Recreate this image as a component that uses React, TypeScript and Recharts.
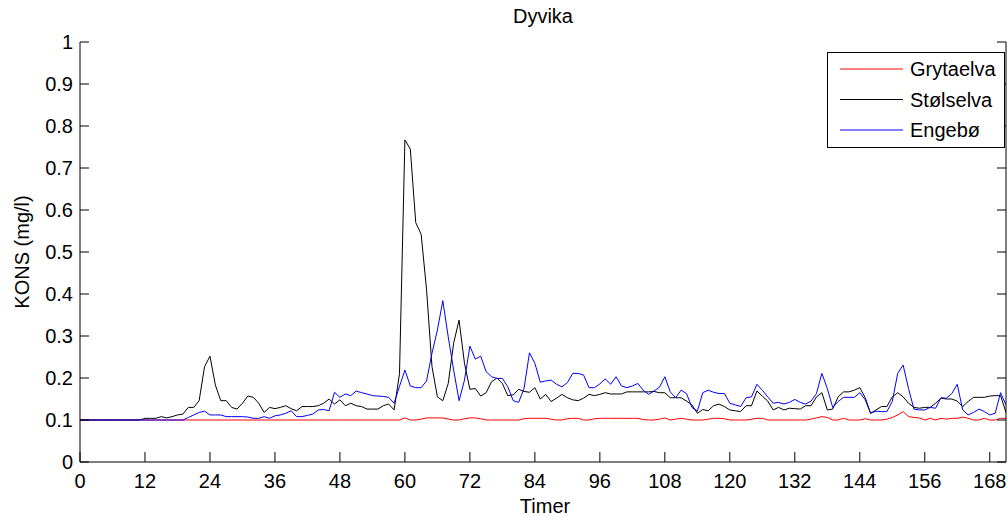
import React from 'react';
import { LineChart, Line, XAxis, YAxis } from 'recharts';

// Concentrations (mg/l) per hour
const grytaelva = [
  0.1, 0.1, 0.1, 0.1, 0.1, 0.1, 0.1, 0.1, 0.1, 0.1,
  0.1, 0.1, 0.1, 0.1, 0.1, 0.1, 0.1, 0.1, 0.1, 0.1,
  0.1, 0.1, 0.1, 0.1, 0.1, 0.1, 0.1, 0.1, 0.1, 0.1,
  0.1, 0.1, 0.1, 0.1, 0.1, 0.1, 0.1, 0.1, 0.1, 0.1,
  0.1, 0.1, 0.1, 0.1, 0.1, 0.1, 0.1, 0.1, 0.1, 0.1,
  0.1, 0.1, 0.1, 0.1, 0.1, 0.1, 0.1, 0.1, 0.1, 0.1,
  0.105, 0.1, 0.1, 0.102, 0.105, 0.105, 0.105, 0.105, 0.102, 0.1,
  0.1, 0.103, 0.105, 0.105, 0.103, 0.1, 0.1, 0.1, 0.1, 0.1,
  0.1, 0.1, 0.103, 0.104, 0.104, 0.104, 0.104, 0.102, 0.1, 0.1,
  0.103, 0.104, 0.104, 0.1, 0.1, 0.103, 0.104, 0.104, 0.104, 0.104,
  0.104, 0.104, 0.104, 0.104, 0.101, 0.1, 0.1, 0.102, 0.105, 0.1,
  0.102, 0.104, 0.102, 0.1, 0.1, 0.1, 0.102, 0.104, 0.104, 0.103,
  0.1, 0.1, 0.1, 0.1, 0.102, 0.104, 0.104, 0.1, 0.1, 0.1,
  0.1, 0.1, 0.1, 0.1, 0.1, 0.102, 0.105, 0.108, 0.106, 0.1,
  0.1, 0.104, 0.1, 0.1, 0.1, 0.103, 0.1, 0.1, 0.1, 0.102,
  0.106, 0.112, 0.12, 0.108, 0.106, 0.105, 0.1, 0.104, 0.1, 0.104,
  0.102, 0.104, 0.104, 0.107, 0.104, 0.1, 0.1, 0.104, 0.1, 0.1,
  0.104, 0.104,
];

const stolselva = [
  0.1, 0.1, 0.1, 0.1, 0.1, 0.1, 0.1, 0.1, 0.1, 0.1,
  0.1, 0.1, 0.104, 0.104, 0.104, 0.108, 0.105, 0.108, 0.112, 0.114,
  0.13, 0.13, 0.146, 0.227, 0.252, 0.183, 0.146, 0.146, 0.13, 0.126,
  0.14, 0.157, 0.154, 0.14, 0.118, 0.13, 0.127, 0.13, 0.134, 0.127,
  0.122, 0.132, 0.132, 0.132, 0.134, 0.14, 0.15, 0.138, 0.148, 0.134,
  0.14, 0.134, 0.132, 0.126, 0.126, 0.126, 0.134, 0.138, 0.124, 0.21,
  0.767, 0.745, 0.57, 0.542, 0.41, 0.227, 0.155, 0.146, 0.187, 0.283,
  0.338, 0.235, 0.173, 0.175, 0.157, 0.165, 0.191, 0.2, 0.187, 0.158,
  0.16, 0.173, 0.168, 0.166, 0.177, 0.15, 0.161, 0.144, 0.152, 0.161,
  0.153, 0.148, 0.146, 0.152, 0.161, 0.158, 0.161, 0.165, 0.162, 0.162,
  0.162, 0.167, 0.167, 0.167, 0.167, 0.167, 0.168, 0.165, 0.165, 0.153,
  0.153, 0.153, 0.145, 0.136, 0.116, 0.125, 0.122, 0.134, 0.138, 0.132,
  0.124, 0.122, 0.12, 0.134, 0.134, 0.169, 0.157, 0.145, 0.124, 0.13,
  0.124, 0.128, 0.127, 0.126, 0.134, 0.134, 0.155, 0.165, 0.124, 0.126,
  0.155, 0.167, 0.167, 0.171, 0.177, 0.153, 0.116, 0.124, 0.132, 0.132,
  0.155, 0.165, 0.155, 0.14, 0.13, 0.128, 0.13, 0.13, 0.14, 0.152,
  0.15, 0.15, 0.145, 0.132, 0.144, 0.154, 0.154, 0.154, 0.157, 0.158,
  0.158, 0.118,
];

const engebo = [
  0.1, 0.1, 0.1, 0.1, 0.1, 0.1, 0.1, 0.1, 0.1, 0.1,
  0.1, 0.1, 0.1, 0.1, 0.1, 0.1, 0.1, 0.1, 0.1, 0.1,
  0.106, 0.112, 0.118, 0.121, 0.112, 0.112, 0.112, 0.108, 0.108, 0.108,
  0.108, 0.107, 0.104, 0.104, 0.108, 0.104, 0.11, 0.112, 0.116, 0.122,
  0.108, 0.108, 0.111, 0.114, 0.124, 0.125, 0.122, 0.166, 0.154, 0.162,
  0.158, 0.169, 0.165, 0.162, 0.158, 0.157, 0.156, 0.154, 0.14, 0.18,
  0.219, 0.181, 0.177, 0.177, 0.193, 0.259, 0.314, 0.384, 0.298, 0.219,
  0.146, 0.195, 0.276, 0.245, 0.252, 0.215, 0.203, 0.199, 0.199, 0.179,
  0.146, 0.142, 0.175, 0.26, 0.235, 0.19, 0.193, 0.195, 0.185, 0.179,
  0.189, 0.211, 0.211, 0.207, 0.177, 0.177, 0.186, 0.198, 0.185, 0.203,
  0.181, 0.177, 0.181, 0.187, 0.171, 0.161, 0.169, 0.178, 0.203, 0.167,
  0.153, 0.171, 0.163, 0.13, 0.121, 0.165, 0.171, 0.166, 0.163, 0.163,
  0.14, 0.136, 0.132, 0.153, 0.155, 0.185, 0.171, 0.155, 0.14, 0.142,
  0.138, 0.142, 0.149, 0.142, 0.138, 0.145, 0.163, 0.211, 0.175, 0.13,
  0.144, 0.154, 0.154, 0.154, 0.165, 0.148, 0.116, 0.121, 0.12, 0.12,
  0.144, 0.211, 0.231, 0.175, 0.126, 0.124, 0.124, 0.13, 0.128, 0.153,
  0.152, 0.163, 0.185, 0.124, 0.112, 0.118, 0.126, 0.12, 0.112, 0.116,
  0.165, 0.136,
];

const xTicks = [0, 12, 24, 36, 48, 60, 72, 84, 96, 108, 120, 132, 144, 156, 168];
const yTicks = [0, 0.1, 0.2, 0.3, 0.4, 0.5, 0.6, 0.7, 0.8, 0.9, 1];
const yTickLabels = ['0', '0.1', '0.2', '0.3', '0.4', '0.5', '0.6', '0.7', '0.8', '0.9', '1'];

const seriesInfo = [
  { key: 'grytaelva', name: 'Grytaelva', color: '#ff0000' },
  { key: 'stolselva', name: 'Stølselva', color: '#000000' },
  { key: 'engebo', name: 'Engebø', color: '#0000ff' },
];

const data = grytaelva.map((g, i) => ({
  h: i,
  grytaelva: g,
  stolselva: stolselva[i],
  engebo: engebo[i],
}));

const W = 1007;
const H = 517;
const PL = 80;
const PR = 1006;
const PT = 42;
const PB = 462;
const FONT = '"Liberation Sans", Arial, Helvetica, sans-serif';
const FS = 20;

const BottomTick = (props: any) => {
  const { x, payload } = props;
  return (
    <g>
      <line x1={x} x2={x} y1={PB} y2={PB - 10} stroke="#000" strokeWidth={1} />
      <text x={x} y={488} textAnchor="middle" fontSize={FS} fontFamily={FONT} fill="#000">
        {payload.value}
      </text>
    </g>
  );
};

const TopTick = (props: any) => {
  const { x } = props;
  return <line x1={x} x2={x} y1={PT} y2={PT + 10} stroke="#000" strokeWidth={1} />;
};

const LeftTick = (props: any) => {
  const { y, payload } = props;
  const idx = yTicks.indexOf(payload.value);
  return (
    <g>
      <line x1={PL} x2={PL + 9} y1={y} y2={y} stroke="#000" strokeWidth={1} />
      <text x={73} y={y + 7} textAnchor="end" fontSize={FS} fontFamily={FONT} fill="#000">
        {idx >= 0 ? yTickLabels[idx] : String(payload.value)}
      </text>
    </g>
  );
};

const RightTick = (props: any) => {
  const { y } = props;
  return <line x1={PR} x2={PR - 9} y1={y} y2={y} stroke="#000" strokeWidth={1} />;
};

export default function App() {
  return (
    <div style={{ position: 'absolute', left: 0, top: 0, width: W, height: H, background: '#fff' }}>
      <LineChart
        width={W}
        height={H}
        data={data}
        margin={{ top: PT, right: W - PR - 1, bottom: 0, left: 0 }}
      >
        <XAxis
          dataKey="h"
          type="number"
          domain={[0, 171]}
          ticks={xTicks}
          interval={0}
          height={H - PB}
          tickLine={false}
          tickSize={0}
          axisLine={{ stroke: '#000' }}
          tick={<BottomTick />}
          allowDataOverflow
        />
        <XAxis
          xAxisId="top"
          orientation="top"
          dataKey="h"
          type="number"
          domain={[0, 171]}
          ticks={xTicks}
          interval={0}
          height={0}
          tickLine={false}
          tickSize={0}
          axisLine={{ stroke: '#000' }}
          tick={<TopTick />}
          allowDataOverflow
        />
        <YAxis
          type="number"
          domain={[0, 1]}
          ticks={yTicks}
          interval={0}
          width={PL}
          tickLine={false}
          tickSize={0}
          axisLine={{ stroke: '#000' }}
          tick={<LeftTick />}
          allowDataOverflow
        />
        <YAxis
          yAxisId="right"
          orientation="right"
          type="number"
          domain={[0, 1]}
          ticks={yTicks}
          interval={0}
          width={1}
          tickLine={false}
          tickSize={0}
          axisLine={{ stroke: '#000' }}
          tick={<RightTick />}
          allowDataOverflow
        />
        {seriesInfo.map((s) => (
          <Line
            key={s.key}
            dataKey={s.key}
            name={s.name}
            type="linear"
            stroke={s.color}
            strokeWidth={1}
            dot={false}
            activeDot={false}
            isAnimationActive={false}
          />
        ))}
      </LineChart>
      <svg
        width={W}
        height={H}
        style={{ position: 'absolute', left: 0, top: 0, pointerEvents: 'none' }}
      >
        <text x={543} y={23} textAnchor="middle" fontSize={FS} fontFamily={FONT} fill="#000">
          Dyvika
        </text>
        <text x={545} y={513} textAnchor="middle" fontSize={FS} fontFamily={FONT} fill="#000">
          Timer
        </text>
        <text
          transform="translate(29,252) rotate(-90)"
          textAnchor="middle"
          fontSize={FS}
          fontFamily={FONT}
          fill="#000"
        >
          KONS (mg/l)
        </text>
        <rect x={827.5} y={52.5} width={177} height={95} fill="#fff" stroke="#000" strokeWidth={1} />
        {seriesInfo.map((s, i) => (
          <g key={s.key}>
            <line x1={840} x2={903} y1={69 + i * 30.5} y2={69 + i * 30.5} stroke={s.color} strokeWidth={1} />
            <text x={910} y={69 + i * 30.5 + 7} fontSize={FS} fontFamily={FONT} fill="#000">
              {s.name}
            </text>
          </g>
        ))}
      </svg>
    </div>
  );
}
